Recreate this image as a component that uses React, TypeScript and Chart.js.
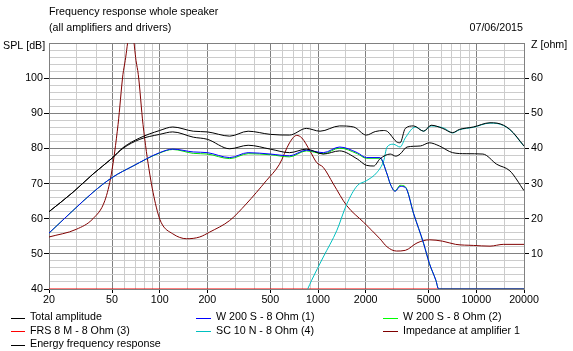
import React, { useEffect, useRef } from 'react';
import { Chart, registerables } from 'chart.js';
Chart.register(...registerables);

// ---- data (frequency in Hz, SPL in dB, impedance in ohm) ----
const totalFreq = [20, 28.3, 37.9, 50, 58.6, 75, 100, 121, 163, 200, 277, 362, 500, 661, 844, 1030, 1368, 1680, 2020, 2300, 2600, 2750, 3130, 3300, 3560, 4020, 4650, 5180, 6130, 7080, 7810, 9570, 12200, 13500, 16300, 20000];
const totalDb = [62.0, 67.5, 72.7, 77.2, 80.2, 83.0, 85.1, 86.1, 84.9, 84.7, 83.5, 84.9, 84.0, 83.8, 85.7, 84.9, 86.4, 86.1, 83.8, 84.8, 85.1, 84.8, 81.9, 81.6, 85.7, 86.4, 84.9, 86.6, 85.7, 84.5, 85.4, 86.1, 87.3, 87.2, 85.4, 80.7];

const energyFreq = [20, 28.3, 37.9, 50, 58.6, 75, 100, 121, 163, 200, 277, 362, 500, 661, 844, 1080, 1368, 1770, 2020, 2250, 2460, 2860, 3100, 3300, 3650, 4430, 5050, 5840, 7080, 8620, 11000, 13450, 16300, 20000];
const energyDb = [62.0, 67.5, 72.7, 77.2, 80.0, 82.6, 84.0, 84.7, 83.2, 82.6, 79.9, 80.9, 79.8, 78.8, 79.8, 78.4, 79.3, 77.0, 75.2, 75.0, 77.0, 78.4, 77.8, 78.4, 80.4, 80.7, 81.6, 80.7, 78.8, 78.5, 78.4, 75.5, 73.6, 68.0];

const wooferFreq = [20, 28.3, 37.9, 50, 67.9, 100, 121, 163, 200, 277, 362, 500, 661, 844, 1080, 1368, 1770, 2020, 2460, 2730, 2860, 3070, 3300, 3560, 4020, 4650, 5050, 5550, 5780, 20000];
const woofer1Db = [55.9, 62.3, 67.5, 71.7, 75.0, 78.8, 79.8, 79.0, 78.8, 77.4, 78.8, 78.4, 77.9, 79.5, 78.8, 80.4, 78.8, 77.4, 77.4, 72.7, 69.9, 67.8, 69.2, 68.9, 61.4, 52.9, 47.3, 42.5, 40, 40];
const woofer2Db = [55.9, 62.3, 67.5, 71.7, 75.0, 78.7, 79.7, 78.6, 78.4, 77.1, 78.5, 78.2, 77.6, 79.3, 78.5, 80.1, 78.5, 77.2, 77.2, 72.7, 69.9, 67.9, 69.5, 69.1, 61.4, 52.9, 47.3, 42.5, 40, 40];

const frsFreq = [20, 20000];
const frsDb = [40, 40];

const tweeterFreq = [861, 912, 1080, 1316, 1520, 1770, 2020, 2360, 2600, 2730, 2990, 3300, 3560, 4120, 4650, 5180, 6290, 7080, 7810, 9570, 12200, 13500, 16300, 20000];
const tweeterDb = [40, 42.5, 49.1, 56.7, 64.2, 69.4, 70.8, 73.2, 76.5, 80.4, 81.2, 80.4, 83.0, 86.1, 84.9, 86.4, 85.7, 84.4, 85.3, 86.0, 87.2, 87.1, 85.3, 80.6];

const impFreq = [20, 29.8, 37.9, 45.1, 49.5, 54.6, 58.6, 60.6, 64.0, 66.0, 67.8, 70.9, 73.3, 78.5, 86.6, 95.2, 102, 121, 148, 179, 207, 277, 352, 471, 571, 661, 733, 790, 890, 980, 1080, 1250, 1520, 1940, 2460, 2730, 3130, 3560, 4220, 5050, 6130, 7400, 9570, 12200, 14800, 20000];
const impOhm = [14.8, 17.0, 20.0, 25.2, 32.7, 46.8, 61.0, 65.0, 72.5, 74.5, 72.5, 65.0, 61.0, 46.8, 32.7, 23.3, 19.0, 15.7, 14.3, 14.8, 16.2, 19.5, 24.2, 30.8, 35.5, 41.6, 43.7, 43.0, 39.3, 36.0, 34.6, 29.9, 23.7, 19.0, 14.3, 12.0, 10.8, 11.0, 13.1, 14.0, 13.6, 12.7, 12.4, 12.2, 12.7, 12.7];

const xGridTicks = [20, 30, 40, 50, 60, 70, 80, 90, 100, 150, 200, 300, 400, 500, 600, 700, 800, 900, 1000, 1500, 2000, 3000, 4000, 5000, 6000, 7000, 8000, 9000, 10000, 15000, 20000];
const xLabelTicks = [20, 50, 100, 200, 500, 1000, 2000, 5000, 10000, 20000];
const splLabels = [40, 50, 60, 70, 80, 90, 100];
const zLabels = [10, 20, 30, 40, 50, 60];

const titleLine1 = 'Frequency response whole speaker';
const titleLine2 = '(all amplifiers and drivers)';
const dateText = '07/06/2015';
const splTitle = 'SPL [dB]';
const zTitle = 'Z [ohm]';

const legendItems = [
  { label: 'Total amplitude', color: '#000000' },
  { label: 'W 200 S - 8 Ohm (1)', color: '#0000ff' },
  { label: 'W 200 S - 8 Ohm (2)', color: '#00ff00' },
  { label: 'FRS 8 M - 8 Ohm (3)', color: '#ff0000' },
  { label: 'SC 10 N - 8 Ohm (4)', color: '#00c0c0' },
  { label: 'Impedance at amplifier 1', color: '#800000' },
  { label: 'Energy frequency response', color: '#000000' },
];

const FONT = '"Liberation Sans", Arial, sans-serif';
const FSIZE = 10.7;
const MAJOR = '#808080';
const MINOR = '#cccccc';

const pts = (xs: number[], ys: number[]) => xs.map((x, i) => ({ x, y: ys[i] }));

const textPlugin = {
  id: 'texts',
  afterDraw(chart: any) {
    const ctx = chart.ctx;
    ctx.save();
    ctx.font = `${FSIZE}px ${FONT}`;
    ctx.fillStyle = '#000';
    ctx.textBaseline = 'middle';
    ctx.textAlign = 'left';
    ctx.fillText(titleLine1, 49, 12);
    ctx.fillText(titleLine2, 49, 28.5);
    ctx.fillText(splTitle, 3, 46);
    ctx.fillText(zTitle, 531, 45.5);
    ctx.textAlign = 'right';
    ctx.fillText(dateText, 523, 28);
    ctx.textAlign = 'left';
    const cols = [
      { lx0: 11, lx1: 25, tx: 30 },
      { lx0: 196, lx1: 211, tx: 216 },
      { lx0: 383, lx1: 398, tx: 403 },
    ];
    const rows = [317.5, 331, 344.5];
    legendItems.forEach((it, i) => {
      const c = cols[i % 3];
      const y = rows[Math.floor(i / 3)];
      ctx.strokeStyle = it.color;
      ctx.lineWidth = 1;
      ctx.beginPath();
      ctx.moveTo(c.lx0, Math.round(y) + 0.5);
      ctx.lineTo(c.lx1, Math.round(y) + 0.5);
      ctx.stroke();
      ctx.fillStyle = '#000';
      ctx.fillText(it.label, c.tx, y);
    });
    ctx.restore();
  },
};

export default function App() {
  const ref = useRef<HTMLCanvasElement>(null);
  useEffect(() => {
    if (!ref.current) return;
    const line = (label: string, data: any[], color: string, yAxisID = 'y') => ({
      label,
      data,
      borderColor: color,
      backgroundColor: color,
      borderWidth: 1,
      pointRadius: 0,
      cubicInterpolationMode: 'monotone',
      fill: false,
      yAxisID,
    });
    const chart = new Chart(ref.current, {
      type: 'line',
      data: {
        datasets: [
          line('Total amplitude', pts(totalFreq, totalDb), '#000000'),
          line('Energy frequency response', pts(energyFreq, energyDb), '#000000'),
          line('W 200 S - 8 Ohm (1)', pts(wooferFreq, woofer1Db), '#0000ff'),
          line('W 200 S - 8 Ohm (2)', pts(wooferFreq, woofer2Db), '#00e000'),
          line('SC 10 N - 8 Ohm (4)', pts(tweeterFreq, tweeterDb), '#00c0c0'),
          line('Impedance at amplifier 1', pts(impFreq, impOhm), '#800000', 'z'),
          line('FRS 8 M - 8 Ohm (3)', pts(frsFreq, frsDb), '#ff0000'),
        ] as any,
      },
      options: {
        animation: false,
        responsive: false,
        maintainAspectRatio: false,
        layout: { padding: { top: 43, left: 0, right: 0, bottom: 0 } },
        plugins: { legend: { display: false }, title: { display: false }, tooltip: { enabled: false } },
        scales: {
          x: {
            type: 'logarithmic',
            min: 20,
            max: 20000,
            afterBuildTicks: (s: any) => { s.ticks = xGridTicks.map((v) => ({ value: v })); },
            afterFit: (s: any) => { s.height = 62; },
            ticks: {
              autoSkip: false,
              maxRotation: 0,
              minRotation: 0,
              padding: 1,
              color: '#000',
              font: { family: FONT, size: FSIZE },
              callback: (v: any) => (xLabelTicks.includes(Number(v)) ? String(v) : ''),
            },
            grid: {
              color: (c: any) => (c.tick && xLabelTicks.includes(c.tick.value) ? MAJOR : MINOR),
              tickColor: (c: any) => (c.tick && xLabelTicks.includes(c.tick.value) ? '#000' : 'rgba(0,0,0,0)'),
              tickLength: 4,
              lineWidth: 1,
            },
            border: { display: true, color: MAJOR },
          },
          y: {
            type: 'linear',
            position: 'left',
            min: 40,
            max: 110,
            afterBuildTicks: (s: any) => {
              const t = [];
              for (let v = 40; v <= 110; v += 2) t.push({ value: v });
              s.ticks = t;
            },
            afterFit: (s: any) => { s.width = 49; },
            ticks: {
              autoSkip: false,
              padding: 1,
              color: '#000',
              font: { family: FONT, size: FSIZE },
              callback: (v: any) => (splLabels.includes(Number(v)) ? String(v) : ''),
            },
            grid: {
              color: (c: any) => (c.tick && c.tick.value % 10 === 0 ? MAJOR : MINOR),
              tickColor: (c: any) => (c.tick && splLabels.includes(c.tick.value) ? '#000' : 'rgba(0,0,0,0)'),
              tickLength: 5,
              lineWidth: 1,
            },
            border: { display: true, color: MAJOR },
          },
          z: {
            type: 'linear',
            position: 'right',
            min: 0,
            max: 70,
            afterBuildTicks: (s: any) => {
              const t = [];
              for (let v = 0; v <= 70; v += 10) t.push({ value: v });
              s.ticks = t;
            },
            afterFit: (s: any) => { s.width = 49; },
            ticks: {
              autoSkip: false,
              padding: 2,
              color: '#000',
              font: { family: FONT, size: FSIZE },
              callback: (v: any) => (zLabels.includes(Number(v)) ? String(v) : ''),
            },
            grid: {
              drawOnChartArea: false,
              tickColor: (c: any) => (c.tick && zLabels.includes(c.tick.value) ? '#000' : 'rgba(0,0,0,0)'),
              tickLength: 5,
            },
            border: { display: true, color: MAJOR },
          },
        },
      } as any,
      plugins: [textPlugin],
    });
    return () => chart.destroy();
  }, []);
  return (
    <div style={{ position: 'absolute', left: 0, top: 0, width: 573, height: 351, background: '#fff' }}>
      <canvas ref={ref} width={573} height={351} style={{ display: 'block' }} />
    </div>
  );
}
